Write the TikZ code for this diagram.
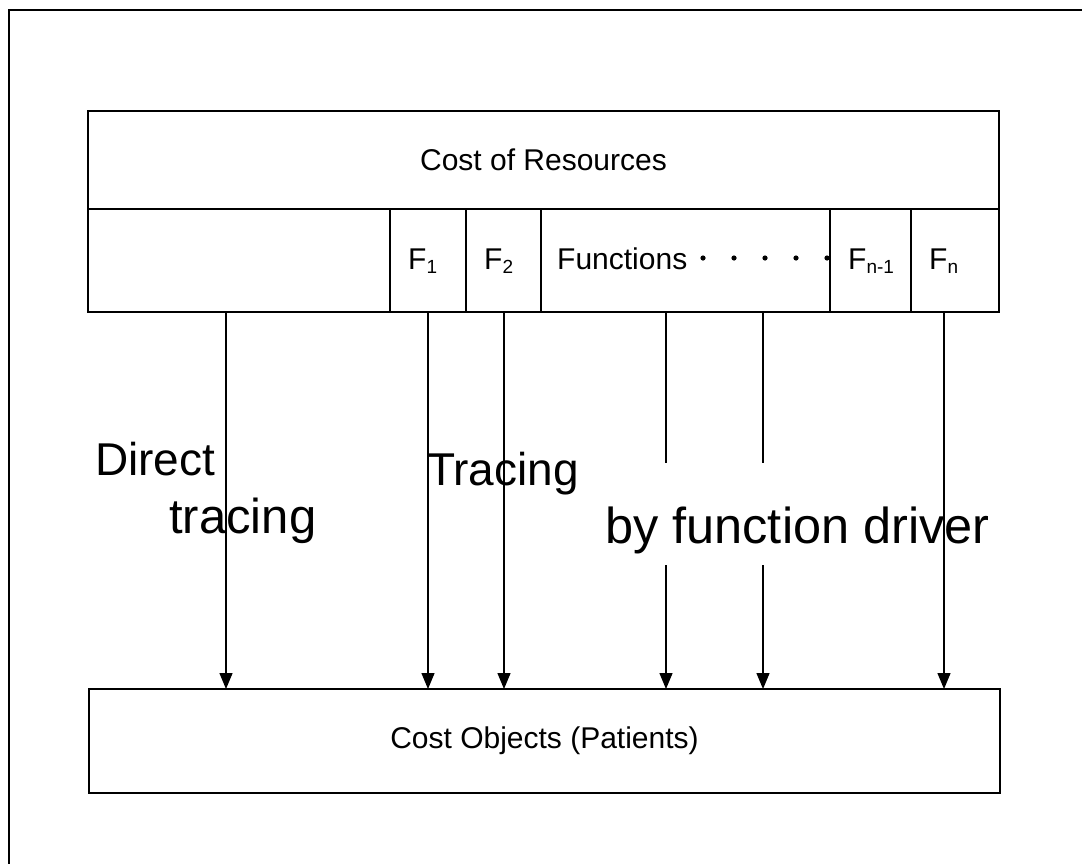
\documentclass[tikz,border=0pt]{standalone}
\usepackage{fontspec}
\setmainfont{Liberation Sans}
\usetikzlibrary{arrows.meta}
\newcommand\subs[1]{\raisebox{-4pt}{\fontsize{19}{19}\selectfont #1}}
\begin{document}
\begin{tikzpicture}[x=1pt,y=-1pt,
  frame/.style={line width=2.6pt},
  boxline/.style={draw,line width=1.8pt,inner sep=0pt,outer sep=0pt,rectangle,anchor=north west,font=\fontsize{30}{34}\selectfont},
  cellbox/.style={draw,line width=1.5pt,inner sep=0pt,outer sep=0pt,rectangle,anchor=north west,minimum height=103pt},
  txt/.style={font=\fontsize{30}{34}\selectfont,inner sep=0pt,anchor=base west},
  bigtxt/.style={font=\fontsize{46}{50}\selectfont,inner sep=0pt,anchor=base west},
  bigtxtb/.style={font=\fontsize{49}{53}\selectfont,inner sep=0pt,anchor=base west},
  bigtxtc/.style={font=\fontsize{50.5}{55}\selectfont,inner sep=0pt,anchor=base west},
  conn/.style={line width=1.4pt,-{Triangle[length=16pt,width=13pt]}},
  seg/.style={line width=1.4pt}]
\useasboundingbox (0,0) rectangle (1082,863);
\draw[frame] (9,870) -- (9,10) -- (1090,10);

% top box
\node[boxline,minimum width=911pt,minimum height=98pt] (res) at (88,111) {Cost of Resources};
\node[cellbox,minimum width=302pt] (cd) at (88,209) {};
\node[cellbox,minimum width=76pt] (c1) at (390,209) {};
\node[cellbox,minimum width=75pt] (c2) at (466,209) {};
\node[cellbox,minimum width=289pt] (cf) at (541,209) {};
\node[cellbox,minimum width=81pt] (cn1) at (830,209) {};
\node[cellbox,minimum width=88pt] (cn) at (911,209) {};

\node[txt] (l1) at (408,269) {F\subs{1}};
\node[txt] (l2) at (484,269) {F\subs{2}};
\node[txt] (lf) at (557,269) {Functions};
\node[txt] (ln1) at (848,269) {F\subs{n-1}};
\node[txt] (ln) at (929,269) {F\subs{n}};
\foreach \x in {703,734,765,796,827} \fill (\x,258) circle (2.6pt);

% bottom box
\node[boxline,minimum width=911pt,minimum height=104pt] (obj) at (89,689) {Cost Objects (Patients)};

% labels
\node[bigtxt] (t1) at (95,475) {Direct};
\node[bigtxtb] (t2) at (169,533) {tracing};
\node[bigtxt] (t3) at (427,485) {Tracing};
\node[bigtxtc] (t4) at (605,543) {by function driver};

% connectors
\coordinate (xd) at (226,0);
\coordinate (x1) at (428,0);
\coordinate (x2) at (504,0);
\coordinate (xa) at (666,0);
\coordinate (xb) at (763,0);
\coordinate (xn) at (944,0);
\coordinate (ga1) at (666,463);
\coordinate (ga2) at (666,565);
\coordinate (gb1) at (763,463);
\coordinate (gb2) at (763,565);

\draw[conn] (cd.south -| xd) -- (obj.north -| xd);
\draw[conn] (c1.south -| x1) -- (obj.north -| x1);
\draw[conn] (c2.south -| x2) -- (obj.north -| x2);
\draw[seg] (cf.south -| xa) -- (ga1);
\draw[conn] (ga2) -- (obj.north -| xa);
\draw[seg] (cf.south -| xb) -- (gb1);
\draw[conn] (gb2) -- (obj.north -| xb);
\draw[conn] (cn.south -| xn) -- (obj.north -| xn);
\end{tikzpicture}
\end{document}
